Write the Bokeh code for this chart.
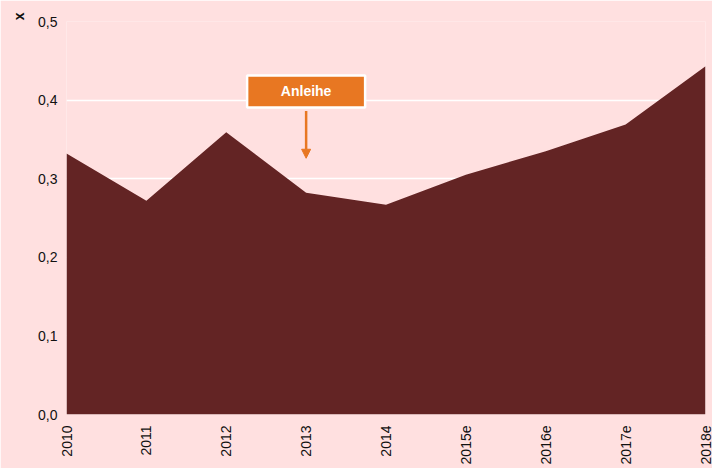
from bokeh.plotting import figure
from bokeh.models import (Range1d, FixedTicker, CustomJSTickFormatter, Title, Arrow,
                          NormalHead, ColumnDataSource)
from bokeh.core.properties import value
from bokeh.embed import file_html
from bokeh.resources import INLINE
import math

categories = ["2010", "2011", "2012", "2013", "2014", "2015e", "2016e", "2017e", "2018e"]
values = [0.332, 0.272, 0.359, 0.282, 0.267, 0.305, 0.335, 0.369, 0.443]
y_ticks = [0.0, 0.1, 0.2, 0.3, 0.4, 0.5]
y_title = "x"
annot_text = "Anleihe"
annot_category = "2013"
annot_box_y = 0.411
arrow_start = 0.386
arrow_end = 0.326

BG = "#FFE0E0"
AREA = "#632424"
ORANGE = "#E87722"

xs = list(range(len(categories)))
p = figure(width=712, height=468, output_backend="svg", toolbar_location=None,
           x_range=Range1d(0, len(categories) - 1), y_range=Range1d(0, 0.5),
           min_border_left=66, min_border_right=7, min_border_top=21, min_border_bottom=54)
p.background_fill_color = BG
p.border_fill_color = BG
p.outline_line_color = None

src = ColumnDataSource(dict(x=xs, y=values, y0=[0] * len(xs)))
p.varea(x="x", y1="y0", y2="y", source=src, fill_color=AREA)

p.xgrid.grid_line_color = None
p.ygrid.grid_line_color = "white"
p.ygrid.grid_line_width = 1.5
p.ygrid.level = "underlay"

for ax_ in (p.xaxis, p.yaxis):
    ax_.axis_line_color = None
    ax_.major_tick_line_color = None
    ax_.minor_tick_line_color = None
    ax_.major_tick_out = 0
    ax_.major_tick_in = 0
    ax_.minor_tick_out = 0
    ax_.minor_tick_in = 0
    ax_.major_label_text_font = "Liberation Sans"
    ax_.major_label_text_font_size = "14px"
    ax_.major_label_text_color = "#111111"

p.yaxis.ticker = FixedTicker(ticks=y_ticks)
p.yaxis.formatter = CustomJSTickFormatter(code="return tick.toFixed(1).replace('.', ',');")
p.yaxis.major_label_standoff = 9

p.xaxis.ticker = FixedTicker(ticks=xs)
p.xaxis.major_label_overrides = {i: c for i, c in enumerate(categories)}
p.xaxis.major_label_orientation = math.pi / 2
p.xaxis.major_label_standoff = 11

# unit marker "x" (rotated y-axis title at the top-left)
p.add_layout(Title(text=y_title, align="right", text_font="Liberation Sans",
                   text_font_style="bold", text_font_size="14px", text_color="#111111",
                   standoff=17, offset=-9), "left")

ax = categories.index(annot_category)
p.add_layout(Arrow(x_start=ax, y_start=arrow_start, x_end=ax, y_end=arrow_end,
                   line_color=ORANGE, line_width=2.5,
                   end=NormalHead(size=9, fill_color=ORANGE, line_color=ORANGE)))
p.rect(x=[ax], y=[annot_box_y], width=118, height=32, width_units="screen", height_units="screen",
       fill_color=ORANGE, line_color="white", line_width=2.5)
p.text(x=[ax], y=[annot_box_y], text=[annot_text], text_color="white",
       text_font=value("Liberation Sans"), text_font_style="bold", text_font_size="14px",
       text_align="center", text_baseline="middle")

html = file_html(p, INLINE)
html = html.replace("<body>", '<body style="margin:0;background:%s">' % BG, 1)
open("out.html", "w").write(html)
